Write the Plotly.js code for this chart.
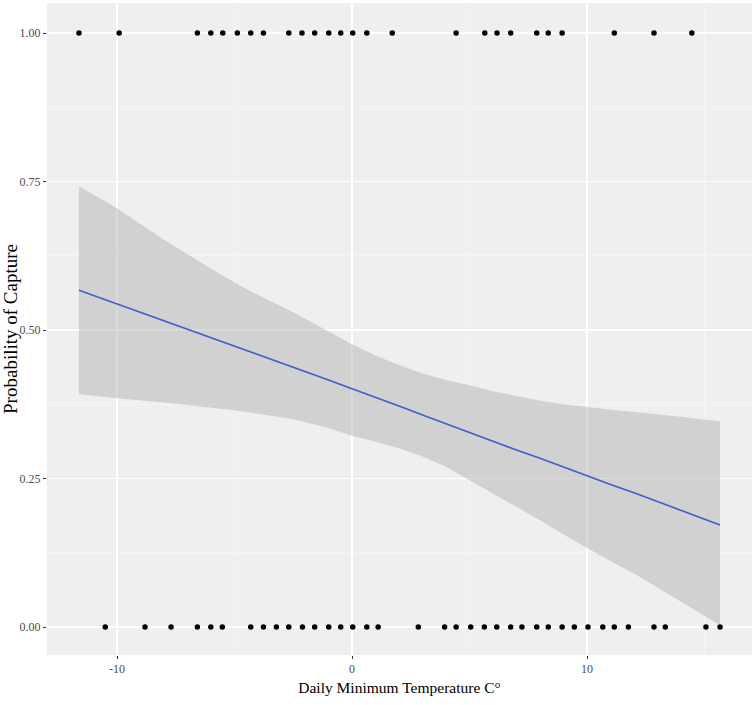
<!DOCTYPE html>
<html>
<head>
<meta charset="utf-8">
<script src="https://cdn.plot.ly/plotly-3.0.1.min.js"></script>
<style>html,body{margin:0;padding:0;background:#fff;}#chart{width:755px;height:705px;}</style>
</head>
<body>
<div id="chart"></div>
<script>
// Observed temperatures (°C) for captured (1) and not captured (0) days
var tempCaptured = [-11.62, -9.91, -6.58, -6.01, -5.50, -4.88, -4.31, -3.77, -2.69, -2.13, -1.59, -0.99, -0.48, 0.03, 0.63, 1.71, 4.43, 5.65, 6.17, 6.75, 7.86, 8.35, 8.94, 11.16, 12.85, 14.46];
var tempNotCaptured = [-10.50, -8.81, -7.70, -6.58, -6.01, -5.52, -4.31, -3.77, -3.22, -2.69, -2.11, -1.59, -0.99, -0.48, 0.03, 0.63, 1.11, 2.82, 3.94, 4.43, 5.05, 5.63, 6.16, 6.75, 7.23, 7.86, 8.35, 8.94, 9.46, 10.04, 10.67, 11.16, 11.76, 12.85, 13.33, 15.06, 15.66];

// Fitted curve and confidence band
var fitX     = [-11.62, -10.0, -8.0, -6.0, -5.0, -4.0, -2.5, -1.0, 0.0, 1.0, 2.0, 3.0, 4.0, 5.0, 6.0, 7.0, 8.0, 9.0, 10.0, 11.0, 12.0, 13.0, 14.0, 15.66];
var fitY     = [0.567, 0.544, 0.516, 0.488, 0.473, 0.459, 0.437, 0.416, 0.401, 0.387, 0.372, 0.357, 0.342, 0.327, 0.313, 0.298, 0.284, 0.269, 0.255, 0.240, 0.226, 0.211, 0.197, 0.172];
var fitLower = [0.392, 0.385, 0.378, 0.370, 0.365, 0.359, 0.350, 0.335, 0.322, 0.312, 0.301, 0.287, 0.270, 0.247, 0.225, 0.202, 0.180, 0.156, 0.133, 0.111, 0.090, 0.066, 0.042, 0.003];
var fitUpper = [0.742, 0.705, 0.652, 0.603, 0.580, 0.559, 0.530, 0.497, 0.476, 0.457, 0.441, 0.427, 0.416, 0.407, 0.397, 0.389, 0.381, 0.375, 0.370, 0.366, 0.362, 0.358, 0.354, 0.346];

var yTickVals = [0, 0.25, 0.5, 0.75, 1];
var yTickText = ["0.00", "0.25", "0.50", "0.75", "1.00"];
var xTickVals = [-10, 0, 10];
var xTickText = ["-10", "0", "10"];

function fill(arr, v){ return arr.map(function(){ return v; }); }

var traces = [
  {x: fitX, y: fitLower, mode: 'lines', line: {width: 0, color: 'rgba(0,0,0,0)'}, hoverinfo: 'skip', showlegend: false},
  {x: fitX, y: fitUpper, mode: 'lines', line: {width: 0, color: 'rgba(0,0,0,0)'}, fill: 'tonexty', fillcolor: 'rgba(168,166,168,0.42)', hoverinfo: 'skip', showlegend: false},
  {x: fitX, y: fitY, mode: 'lines', line: {width: 1.6, color: '#3F5FC6'}, showlegend: false},
  {x: tempCaptured, y: fill(tempCaptured, 1), mode: 'markers', marker: {size: 5.5, color: '#000'}, showlegend: false},
  {x: tempNotCaptured, y: fill(tempNotCaptured, 0), mode: 'markers', marker: {size: 5.5, color: '#000'}, showlegend: false}
];

var layout = {
  width: 755, height: 705,
  margin: {l: 47, r: 3, t: 3, b: 50},
  paper_bgcolor: '#ffffff',
  plot_bgcolor: '#EFEFEF',
  showlegend: false,
  font: {family: '"Liberation Serif", "DejaVu Serif", serif', color: '#4D4D4D'},
  xaxis: {
    range: [-12.98, 17.02],
    tickvals: xTickVals, ticktext: xTickText,
    showgrid: true, gridcolor: '#ffffff', gridwidth: 1.3,
    minor: {dtick: 5, tick0: 0, showgrid: true, gridcolor: '#f8f8f8', gridwidth: 0.7, ticks: ''},
    zeroline: false, showline: false,
    ticks: 'outside', ticklen: 3, tickwidth: 1, tickcolor: '#333333',
    tickfont: {size: 12, color: '#4D4D4D', family: '"Liberation Serif", serif'},
    title: {text: 'Daily Minimum Temperature C°', font: {size: 15.5, color: '#000', family: '"Liberation Serif", serif'}, standoff: 6}
  },
  yaxis: {
    range: [-0.047, 1.0505],
    tickvals: yTickVals, ticktext: yTickText,
    showgrid: true, gridcolor: '#ffffff', gridwidth: 1.3,
    minor: {dtick: 0.125, tick0: 0, showgrid: true, gridcolor: '#f8f8f8', gridwidth: 0.7, ticks: ''},
    zeroline: false, showline: false,
    ticks: 'outside', ticklen: 3, tickwidth: 1, tickcolor: '#333333',
    tickfont: {size: 12, color: '#4D4D4D', family: '"Liberation Serif", serif'},
    title: {text: 'Probability of Capture', font: {size: 19, color: '#000', family: '"Liberation Serif", serif'}, standoff: 5}
  }
};

Plotly.newPlot('chart', traces, layout, {displayModeBar: false, staticPlot: true});
</script>
</body>
</html>
